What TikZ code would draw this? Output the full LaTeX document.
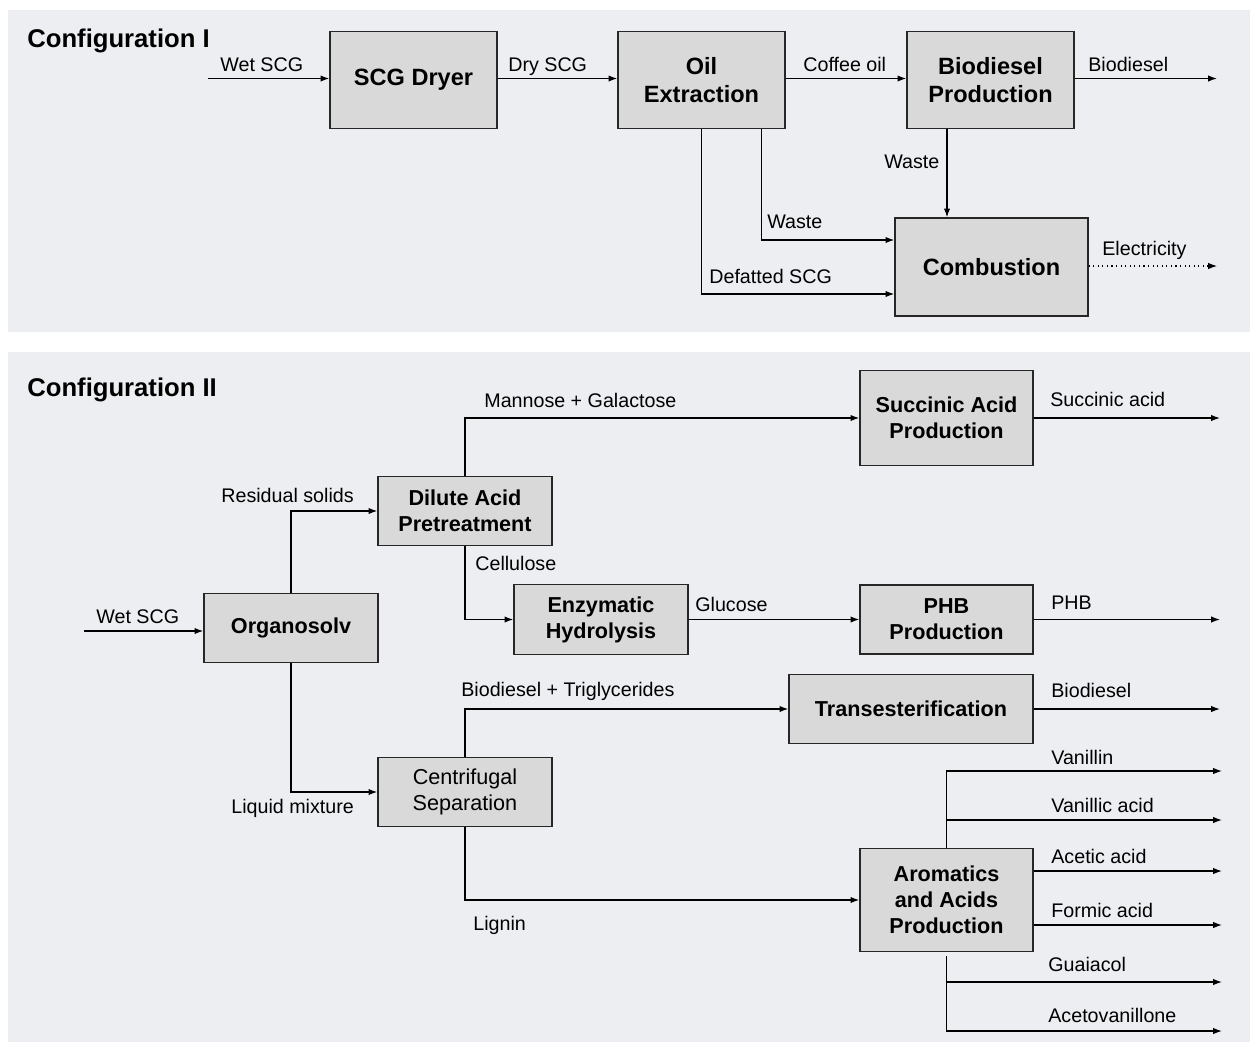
\documentclass[tikz,border=0pt]{standalone}
\usepackage{fontspec}
\setmainfont{Liberation Sans}
\usetikzlibrary{arrows.meta}
\definecolor{panelbg}{HTML}{EDEEF2}
\definecolor{boxfill}{HTML}{D9D9D9}

\begin{document}
\begin{tikzpicture}[x=0.02cm,y=-0.02cm,
	procA/.style={draw=black!85, fill=boxfill, line width=0.75pt, align=center, inner sep=0pt,
		font=\fontsize{13.4}{15.9}\selectfont\bfseries},
	procB/.style={draw=black!85, fill=boxfill, line width=0.75pt, align=center, inner sep=0pt,
		font=\fontsize{12.3}{14.7}\selectfont\bfseries},
	lbl/.style={anchor=base west, inner sep=0pt, font=\fontsize{11.2}{13}\selectfont},
	ttl/.style={anchor=base west, inner sep=0pt, font=\fontsize{14.6}{17}\selectfont\bfseries},
	flow/.style={line width=0.75pt, -{Latex[length=5pt,width=3.6pt]}}]
	\useasboundingbox (0,0) rectangle (1250,1042);
	\fill[panelbg] (8,10) rectangle (1250,332);
	\fill[panelbg] (8,352) rectangle (1250,1042);

	%%  Configuration I  %%%%%%%%
	\node[ttl] (t1) at (27,47) {Configuration I};
	\node[procA, minimum width=3.34cm, minimum height=1.94cm] (dry) at (413.5,80) {SCG Dryer};
	\node[procA, minimum width=3.34cm, minimum height=1.94cm] (oil) at (701.5,80) {Oil\\Extraction};
	\node[procA, minimum width=3.34cm, minimum height=1.94cm] (bd) at (990.5,80) {Biodiesel\\Production};
	\node[procA, minimum width=3.86cm, minimum height=1.96cm] (comb) at (991.5,267) {Combustion};
	\coordinate (in1) at (208,78.5);
	\coordinate (out1) at (1217,78.5);
	\coordinate (el) at (1217,266);
	\coordinate (w3) at ([xshift=-0.87cm]bd.south);
	\draw[flow] (in1) -- (in1 -| dry.west);
	\draw[flow] (in1 -| dry.east) -- (in1 -| oil.west);
	\draw[flow] (in1 -| oil.east) -- (in1 -| bd.west);
	\draw[flow] (in1 -| bd.east) -- (out1);
	\draw[flow] (w3) -- (w3 |- comb.north);
	\draw[flow] ([xshift=1.2cm]oil.south) |- ([yshift=0.54cm]comb.west);
	\draw[flow] (oil.south) |- ([yshift=-0.54cm]comb.west);
	\draw[line width=0.6pt, dash pattern=on 0.6pt off 2pt, -{Latex[length=5pt,width=3.6pt]}] (comb.east |- el) -- (el);
	\node[lbl] (l1) at (220,71) {Wet SCG};
	\node[lbl] (l2) at (508,71) {Dry SCG};
	\node[lbl] (l3) at (803,71) {Coffee oil};
	\node[lbl] (l4) at (1088,71) {Biodiesel};
	\node[lbl] (l5) at (884,168) {Waste};
	\node[lbl] (l6) at (767,228) {Waste};
	\node[lbl] (l7) at (709,283) {Defatted SCG};
	\node[lbl] (l8) at (1102,255) {Electricity};

	%%  Configuration II  %%%%%%%%
	\node[ttl] (t2) at (27,396) {Configuration II};
	\node[procB, minimum width=3.48cm, minimum height=1.38cm] (org) at (291,628) {Organosolv};
	\node[procB, minimum width=3.48cm, minimum height=1.38cm] (dil) at (465,511) {Dilute Acid\\Pretreatment};
	\node[procB, minimum width=3.46cm, minimum height=1.9cm] (suc) at (946.5,418) {Succinic Acid\\Production};
	\node[procB, minimum width=3.48cm, minimum height=1.4cm] (enz) at (601,619.5) {Enzymatic\\Hydrolysis};
	\node[procB, minimum width=3.46cm, minimum height=1.38cm] (phb) at (946.5,619.5) {PHB\\Production};
	\node[procB, minimum width=4.88cm, minimum height=1.38cm] (tra) at (911,709) {Transesterification};
	\node[procB, minimum width=3.48cm, minimum height=1.38cm, font=\fontsize{12.3}{14.7}\selectfont] (cen) at (465,792) {Centrifugal\\Separation};
	\node[procB, minimum width=3.46cm, minimum height=2.06cm] (aro) at (946.5,900) {Aromatics\\and Acids\\Production};
	\coordinate (in2) at (84,631);
	\coordinate (o1) at (1220,418);
	\coordinate (o2) at (1220,619.5);
	\coordinate (o3) at (1220,709);
	\coordinate (van) at (1222,771);
	\coordinate (vac) at (1222,820);
	\coordinate (ace) at (1222,871);
	\coordinate (frm) at (1222,925);
	\coordinate (gua) at (1222,982);
	\coordinate (acv) at (1222,1031);
	\draw[flow] (in2) -- (in2 -| org.west);
	\draw[flow] (org.north) |- (dil.west);
	\draw[flow] (org.south) |- (cen.west);
	\draw[flow] (dil.north) |- (suc.west);
	\draw[flow] (dil.south) |- (enz.west);
	\draw[flow] (enz.east) -- (phb.west);
	\draw[flow] (cen.north) |- (tra.west);
	\draw[flow] (cen.south) |- (aro.west);
	\draw[flow] (suc.east) -- (o1);
	\draw[flow] (phb.east) -- (o2);
	\draw[flow] (tra.east) -- (o3);
	\draw[flow] (aro.north) |- (van);
	\draw[flow] (aro.north |- vac) -- (vac);
	\draw[flow] (aro.east |- ace) -- (ace);
	\draw[flow] (aro.east |- frm) -- (frm);
	\draw[flow] ([yshift=-0.08cm]aro.south) |- (acv);
	\draw[flow] (aro.south |- gua) -- (gua);
	\node[lbl] (m1) at (96,623) {Wet SCG};
	\node[lbl] (m2) at (221,502) {Residual solids};
	\node[lbl] (m3) at (231,813) {Liquid mixture};
	\node[lbl] (m4) at (484,407) {Mannose + Galactose};
	\node[lbl] (m5) at (475,570) {Cellulose};
	\node[lbl] (m6) at (695,611) {Glucose};
	\node[lbl] (m7) at (1050,406) {Succinic acid};
	\node[lbl] (m8) at (1051,609) {PHB};
	\node[lbl] (m9) at (461,696) {Biodiesel + Triglycerides};
	\node[lbl] (m10) at (1051,697) {Biodiesel};
	\node[lbl] (m11) at (473,930) {Lignin};
	\node[lbl] (m12) at (1051,764) {Vanillin};
	\node[lbl] (m13) at (1051,812) {Vanillic acid};
	\node[lbl] (m14) at (1051,863) {Acetic acid};
	\node[lbl] (m15) at (1051,917) {Formic acid};
	\node[lbl] (m16) at (1048,971) {Guaiacol};
	\node[lbl] (m17) at (1048,1022) {Acetovanillone};
	%%%%%%%%%%%%%%%
\end{tikzpicture}
\end{document}
